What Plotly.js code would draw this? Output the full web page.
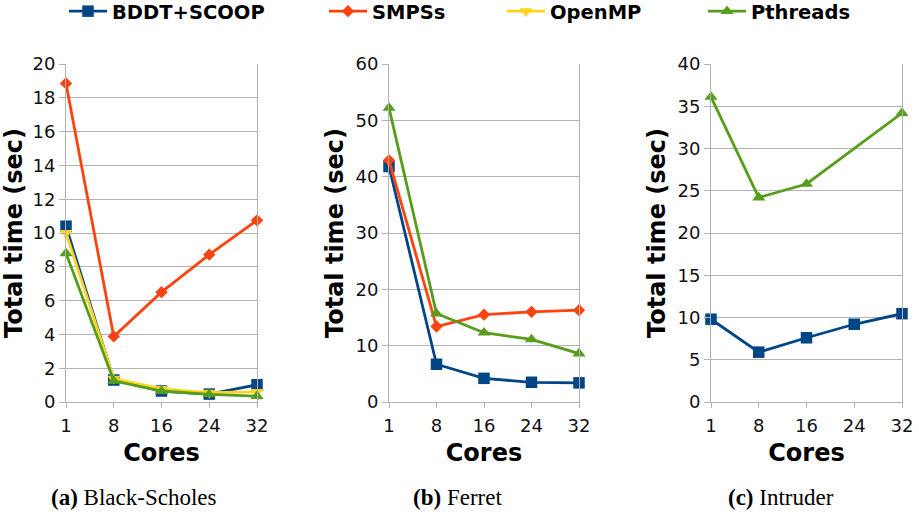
<!DOCTYPE html>
<html>
<head>
<meta charset="utf-8">
<script src="https://cdn.plot.ly/plotly-3.0.1.min.js"></script>
<style>body{margin:0;padding:0;background:#fff}</style>
</head>
<body>
<div id="chart" style="width:919px;height:517px"></div>
<script>
// ---- data ----
var cores = ['1', '8', '16', '24', '32'];
var seriesNames = ['BDDT+SCOOP', 'SMPSs', 'OpenMP', 'Pthreads'];

// (a) Black-Scholes
var bsBDDT     = [10.4, 1.3, 0.65, 0.47, 1.02];
var bsSMPSs    = [18.85, 3.88, 6.5, 8.72, 10.75];
var bsOpenMP   = [10.0, 1.38, 0.78, 0.55, 0.6];
var bsPthreads = [8.8, 1.25, 0.65, 0.45, 0.35];

// (b) Ferret
var feBDDT     = [41.8, 6.7, 4.2, 3.5, 3.4];
var feSMPSs    = [42.9, 13.4, 15.5, 16.0, 16.3];
var fePthreads = [52.2, 15.7, 12.3, 11.1, 8.6];

// (c) Intruder
var inBDDT     = [9.8, 5.9, 7.6, 9.2, 10.45];
var inPthreads = [36.1, 24.2, 25.8, null, 34.2];

var captions = ['Black-Scholes', 'Ferret', 'Intruder'];
var captionTags = ['(a)', '(b)', '(c)'];
var yMax = [20, 60, 40];
var yStep = [2, 10, 5];

// ---- styles ----
var colors = {'BDDT+SCOOP': '#004586', 'SMPSs': '#ff420e', 'OpenMP': '#ffd320', 'Pthreads': '#579d1c'};
var symbols = {'BDDT+SCOOP': 'square', 'SMPSs': 'diamond', 'OpenMP': 'triangle-down', 'Pthreads': 'triangle-up'};
var sizes = {'BDDT+SCOOP': 11.5, 'SMPSs': 9.5, 'OpenMP': 11.5, 'Pthreads': 11.5};
var legendIds = {'BDDT+SCOOP': 'legend', 'SMPSs': 'legend2', 'OpenMP': 'legend3', 'Pthreads': 'legend4'};

function tr(name, y, idx) {
  var ax = idx === 1 ? '' : String(idx);
  return {
    x: cores, y: y, name: name, type: 'scatter', mode: 'lines+markers',
    xaxis: 'x' + ax, yaxis: 'y' + ax,
    line: {color: colors[name], width: 2.8},
    marker: {symbol: symbols[name], size: sizes[name], color: colors[name], line: {width: 0}},
    connectgaps: true, cliponaxis: false,
    showlegend: idx === 1, legendgroup: name, legend: legendIds[name]
  };
}

var data = [
  tr('BDDT+SCOOP', bsBDDT, 1), tr('SMPSs', bsSMPSs, 1), tr('OpenMP', bsOpenMP, 1), tr('Pthreads', bsPthreads, 1),
  tr('BDDT+SCOOP', feBDDT, 2), tr('SMPSs', feSMPSs, 2), tr('Pthreads', fePthreads, 2),
  tr('BDDT+SCOOP', inBDDT, 3), tr('Pthreads', inPthreads, 3)
];

var W = 919, H = 517;
var xDomPx = [[66, 257], [389, 579], [711, 902]];
var yDom = [1 - 402 / H, 1 - 64 / H];
var grid = '#b3b3b3';
var tickFont = {family: 'DejaVu Sans', size: 18, color: '#111'};
var titleFont = {family: 'DejaVu Sans', size: 24, color: '#000', weight: 'bold'};

var layout = {
  width: W, height: H,
  margin: {l: 0, r: 0, t: 0, b: 0, autoexpand: false},
  paper_bgcolor: '#fff', plot_bgcolor: '#fff',
  showlegend: true,
  annotations: []
};

var legendTextX = [112, 372, 550, 751];
['legend', 'legend2', 'legend3', 'legend4'].forEach(function (id, k) {
  layout[id] = {
    orientation: 'h', x: (legendTextX[k] - 48) / W, xanchor: 'left',
    y: 1 + 8 / H, yanchor: 'top',
    font: {family: 'DejaVu Sans', size: 19.5, color: '#000', weight: 'bold'},
    itemwidth: 38, bgcolor: 'rgba(0,0,0,0)', borderwidth: 0
  };
});

for (var i = 0; i < 3; i++) {
  var ax = i === 0 ? '' : String(i + 1);
  layout['xaxis' + ax] = {
    domain: [xDomPx[i][0] / W, xDomPx[i][1] / W],
    anchor: 'y' + ax,
    type: 'category', range: [0, 4],
    showgrid: false, zeroline: false,
    showline: true, linecolor: grid, linewidth: 1, mirror: false,
    ticks: 'outside', ticklen: 5, tickcolor: grid, tickwidth: 1,
    ticklabelstandoff: 2,
    tickfont: tickFont,
    title: {text: 'Cores', font: titleFont, standoff: 9}
  };
  layout['yaxis' + ax] = {
    domain: yDom,
    anchor: 'x' + ax,
    range: [0, yMax[i]], dtick: yStep[i], tick0: 0,
    showgrid: true, gridcolor: grid, gridwidth: 1, zeroline: false,
    showline: true, linecolor: grid, linewidth: 1, mirror: true,
    ticks: 'outside', ticklen: 6, tickcolor: grid, tickwidth: 1,
    tickfont: tickFont,
    title: {text: 'Total time (sec)', font: titleFont, standoff: 5}
  };
  var cx = [133, 457, 781][i];
  layout.annotations.push({
    xref: 'paper', yref: 'paper', x: cx / W, y: 1 - 497 / H,
    xanchor: 'center', yanchor: 'middle', showarrow: false,
    text: '<b>' + captionTags[i] + '</b> ' + captions[i],
    font: {family: 'Liberation Serif', size: 23, color: '#000'}
  });
}

Plotly.newPlot('chart', data, layout, {displayModeBar: false, staticPlot: true});
</script>
</body>
</html>
